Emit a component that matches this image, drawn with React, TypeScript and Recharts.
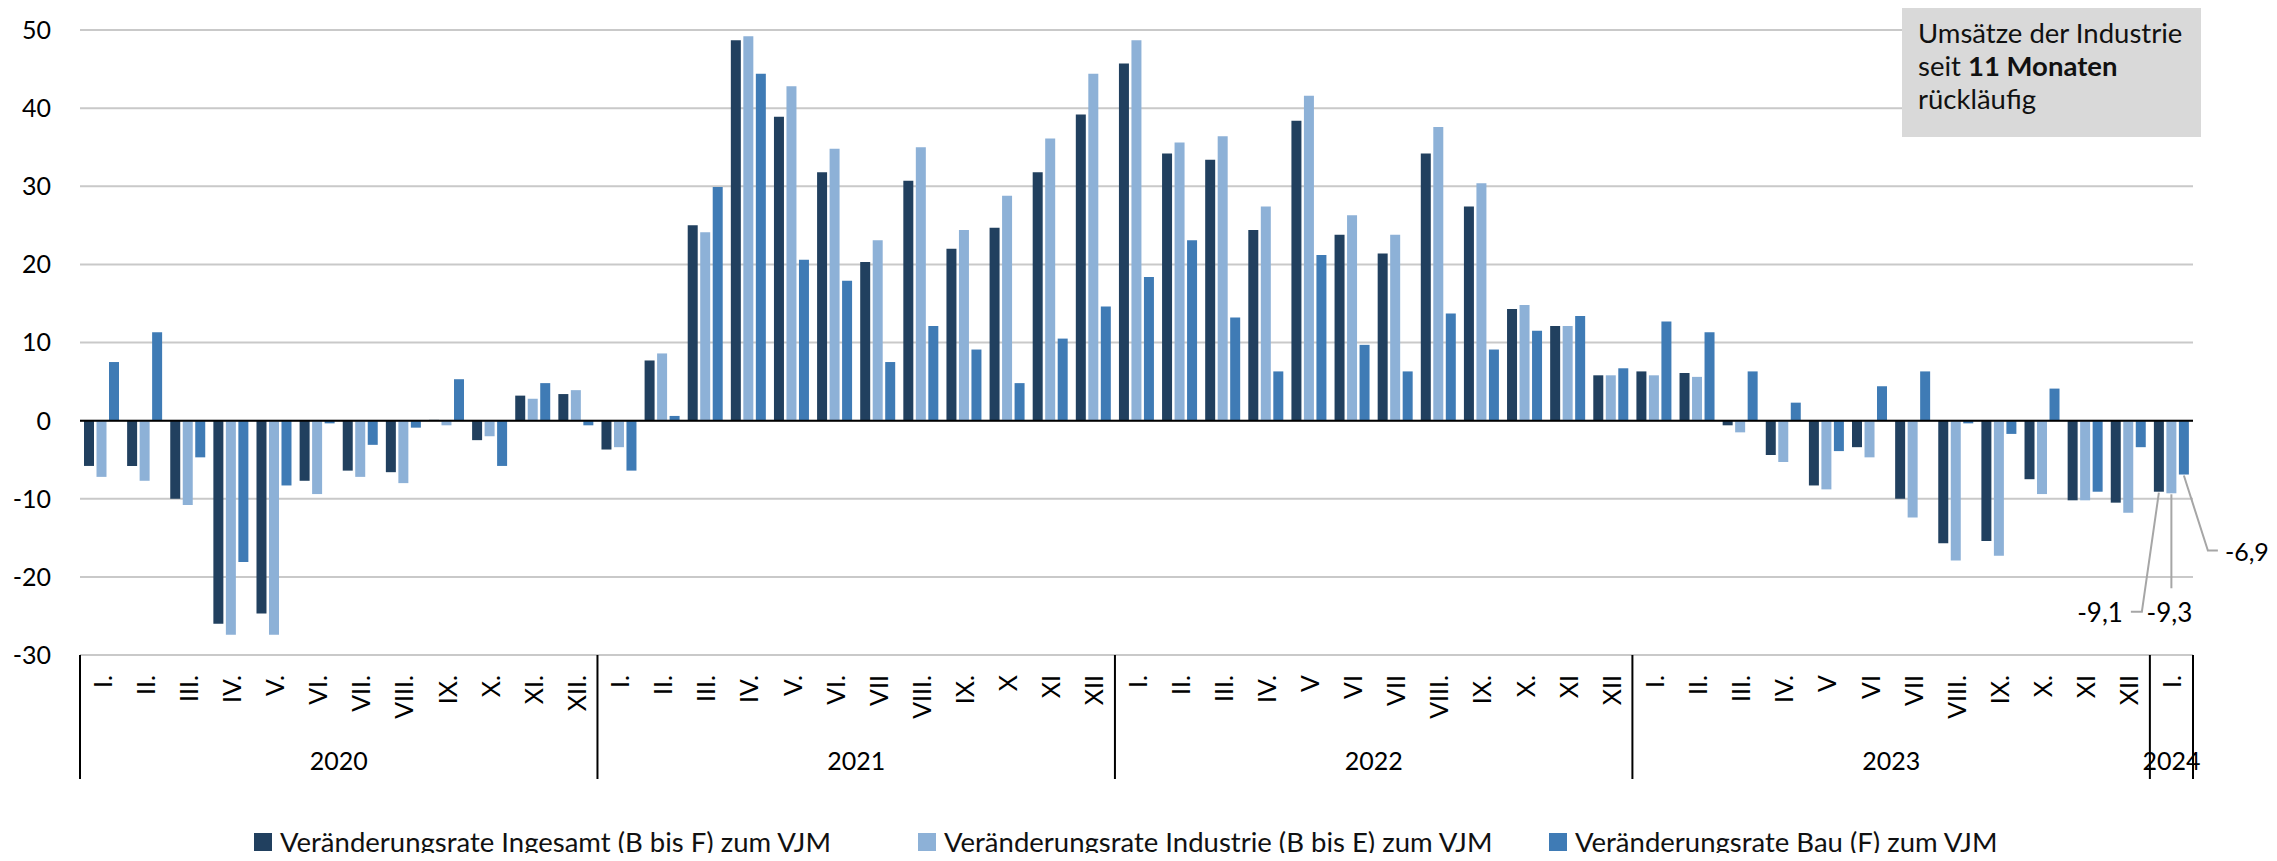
import React from "react";
import { BarChart, Bar, XAxis, YAxis, CartesianGrid, ReferenceLine, Legend, LabelList } from "recharts";

const monthLabels = [
  "I.", "II.", "III.", "IV.", "V.", "VI.", "VII.", "VIII.", "IX.", "X.", "XI.", "XII.",
  "I.", "II.", "III.", "IV.", "V.", "VI.", "VII", "VIII.", "IX.", "X", "XI", "XII",
  "I.", "II.", "III.", "IV.", "V", "VI", "VII", "VIII.", "IX.", "X.", "XI", "XII",
  "I.", "II.", "III.", "IV.", "V", "VI", "VII", "VIII.", "IX.", "X.", "XI", "XII",
  "I.",
];
const years = ["2020", "2021", "2022", "2023", "2024"];
const yearMonthCounts = [12, 12, 12, 12, 1];

const ingesamt = [
  -5.8, -5.8, -10.0, -26.0, -24.7, -7.7, -6.4, -6.6, 0.1, -2.5, 3.2, 3.4,
  -3.7, 7.7, 25.0, 48.7, 38.9, 31.8, 20.3, 30.7, 22.0, 24.7, 31.8, 39.2,
  45.7, 34.2, 33.4, 24.4, 38.4, 23.8, 21.4, 34.2, 27.4, 14.3, 12.1, 5.8,
  6.3, 6.1, -0.6, -4.4, -8.3, -3.4, -10.0, -15.7, -15.4, -7.5, -10.2, -10.5,
  -9.1,
];
const industrie = [
  -7.2, -7.7, -10.8, -27.4, -27.4, -9.4, -7.2, -8.0, -0.6, -2.0, 2.8, 3.9,
  -3.4, 8.6, 24.1, 49.2, 42.8, 34.8, 23.1, 35.0, 24.4, 28.8, 36.1, 44.4,
  48.7, 35.6, 36.4, 27.4, 41.6, 26.3, 23.8, 37.6, 30.4, 14.8, 12.1, 5.8,
  5.8, 5.6, -1.5, -5.3, -8.8, -4.7, -12.4, -17.9, -17.3, -9.4, -10.2, -11.8,
  -9.3,
];
const bau = [
  7.5, 11.3, -4.7, -18.1, -8.3, -0.35, -3.1, -0.9, 5.3, -5.8, 4.8, -0.6,
  -6.4, 0.6, 29.9, 44.4, 20.6, 17.9, 7.5, 12.1, 9.1, 4.8, 10.5, 14.6,
  18.4, 23.1, 13.2, 6.3, 21.2, 9.7, 6.3, 13.7, 9.1, 11.5, 13.4, 6.7,
  12.7, 11.3, 6.3, 2.3, -3.9, 4.4, 6.3, -0.35, -1.7, 4.1, -9.1, -3.4,
  -6.9,
];
const yTicks = [-30, -20, -10, 0, 10, 20, 30, 40, 50];

const seriesNames = [
  "Veränderungsrate Ingesamt (B bis F) zum VJM",
  "Veränderungsrate Industrie (B bis E) zum VJM",
  "Veränderungsrate Bau (F) zum VJM",
];
const colors = ["#21405f", "#8db1d7", "#3f7bb5"];

const FONT = "Lato, 'Noto Sans', sans-serif";
const FS = 25;
const FS_TEXT = 27.5;
const CHART_W = 2269;
const CHART_H = 845;
const MARGIN = { top: 22, right: 84, bottom: 0, left: 0 };
const Y_W = 72;
const N = monthLabels.length;
const PLOT_W = CHART_W - MARGIN.left - MARGIN.right - Y_W;
const BAND = PLOT_W / N;
const LAST = N - 1;

const data = monthLabels.map((m, i) => ({
  key: `${i}-${m}`,
  ingesamt: ingesamt[i],
  industrie: industrie[i],
  bau: bau[i],
}));

const yearStarts: Record<number, number> = {};
{
  let acc = 0;
  years.forEach((_, yi) => {
    yearStarts[acc] = yi;
    acc += yearMonthCounts[yi];
  });
}

const MonthTick = (props: any) => {
  const { x, y, payload } = props;
  const i = payload.index;
  const label = monthLabels[i];
  const ty = y + 20;
  const yi = yearStarts[i];
  return (
    <g>
      <text
        x={x}
        y={ty}
        transform={`rotate(-90, ${x}, ${ty})`}
        textAnchor="end"
        dominantBaseline="central"
        fontFamily={FONT}
        fontSize={FS}
        fill="#000"
      >
        {label}
      </text>
      {yi !== undefined && (
        <g>
          <line x1={x - BAND / 2} x2={x - BAND / 2} y1={y} y2={y + 124} stroke="#000" strokeWidth={2} />
          <text
            x={x - BAND / 2 + (yearMonthCounts[yi] * BAND) / 2}
            y={y + 105}
            textAnchor="middle"
            dominantBaseline="central"
            fontFamily={FONT}
            fontSize={FS}
            fill="#000"
          >
            {years[yi]}
          </text>
        </g>
      )}
      {i === LAST && (
        <line x1={x + BAND / 2} x2={x + BAND / 2} y1={y} y2={y + 124} stroke="#000" strokeWidth={2} />
      )}
    </g>
  );
};

const makeEndLabel = (kind: number) => (props: any) => {
  const { x, y, width, height, index, value } = props;
  if (index !== LAST) return null;
  const cx = Number(x) + Number(width) / 2;
  const b = Math.max(Number(y), Number(y) + Number(height));
  const txt = String(value).replace(".", ",");
  const lc = "#a6a6a6";
  if (kind === 0) {
    return (
      <g>
        <polyline points={`${cx},${b + 1} ${cx - 17},${b + 120} ${cx - 28},${b + 120}`} fill="none" stroke={lc} strokeWidth={2} />
        <text x={cx - 36} y={b + 120} textAnchor="end" dominantBaseline="central" fontFamily={FONT} fontSize={26} fill="#000">{txt}</text>
      </g>
    );
  }
  if (kind === 1) {
    return (
      <g>
        <polyline points={`${cx},${b + 1} ${cx},${b + 95}`} fill="none" stroke={lc} strokeWidth={2} />
        <text x={cx - 2} y={b + 119} textAnchor="middle" dominantBaseline="central" fontFamily={FONT} fontSize={26} fill="#000">{txt}</text>
      </g>
    );
  }
  return (
    <g>
      <polyline points={`${cx},${b + 1} ${cx + 24},${b + 76} ${cx + 34},${b + 76}`} fill="none" stroke={lc} strokeWidth={2} />
      <text x={cx + 41} y={b + 76} textAnchor="start" dominantBaseline="central" fontFamily={FONT} fontSize={25} fill="#000">{txt}</text>
    </g>
  );
};

const itemWidths = [664, 631, 520];
const LegendContent = () => (
  <div style={{ height: 22, position: "relative", width: CHART_W }}>
    <div style={{ position: "absolute", left: 246, top: 0, display: "flex", height: 22, alignItems: "center" }}>
      {seriesNames.map((n, i) => (
        <div key={n} style={{ width: itemWidths[i], display: "flex", alignItems: "center", whiteSpace: "nowrap" }}>
          <div style={{ width: 18, height: 18, background: colors[i], marginRight: 8, flex: "none" }} />
          <span style={{ fontFamily: FONT, fontSize: FS_TEXT, color: "#111", lineHeight: "22px" }}>{n}</span>
        </div>
      ))}
    </div>
  </div>
);

export default function App() {
  return (
    <div style={{ position: "relative", width: CHART_W, height: CHART_H }}>
      <BarChart width={CHART_W} height={CHART_H} data={data} margin={MARGIN} barSize={10} barGap={2.5}>
        <CartesianGrid vertical={false} stroke="#c9c9c9" strokeWidth={2} />
        <XAxis
          dataKey="key"
          height={176}
          interval={0}
          axisLine={false}
          tickLine={false}
          tickSize={0}
          tickMargin={0}
          tick={(p: any) => <MonthTick {...p} />}
        />
        <YAxis
          width={Y_W}
          domain={[-30, 50]}
          ticks={yTicks}
          axisLine={false}
          tickLine={false}
          tickSize={0}
          tickMargin={29}
          tick={{ fontFamily: FONT, fontSize: FS, fill: "#000" }}
          allowDataOverflow
        />
        <Legend verticalAlign="bottom" align="left" content={() => <LegendContent />} wrapperStyle={{ left: 0, bottom: 0, width: CHART_W }} />
        <Bar dataKey="ingesamt" name={seriesNames[0]} fill={colors[0]} isAnimationActive={false}>
          <LabelList dataKey="ingesamt" content={makeEndLabel(0)} />
        </Bar>
        <Bar dataKey="industrie" name={seriesNames[1]} fill={colors[1]} isAnimationActive={false}>
          <LabelList dataKey="industrie" content={makeEndLabel(1)} />
        </Bar>
        <Bar dataKey="bau" name={seriesNames[2]} fill={colors[2]} isAnimationActive={false}>
          <LabelList dataKey="bau" content={makeEndLabel(2)} />
        </Bar>
        <ReferenceLine y={0} stroke="#000" strokeWidth={2} />
      </BarChart>
      <div
        style={{
          position: "absolute",
          left: 1894,
          top: -8,
          width: 299,
          height: 137,
          background: "#d9d9d9",
          boxSizing: "border-box",
          paddingLeft: 16,
          paddingTop: 16,
          fontFamily: FONT,
          fontSize: FS_TEXT,
          lineHeight: "33px",
          color: "#111",
          whiteSpace: "nowrap",
        }}
      >
        Umsätze der Industrie
        <br />
        seit <b>11 Monaten</b>
        <br />
        rückläufig
      </div>
    </div>
  );
}
